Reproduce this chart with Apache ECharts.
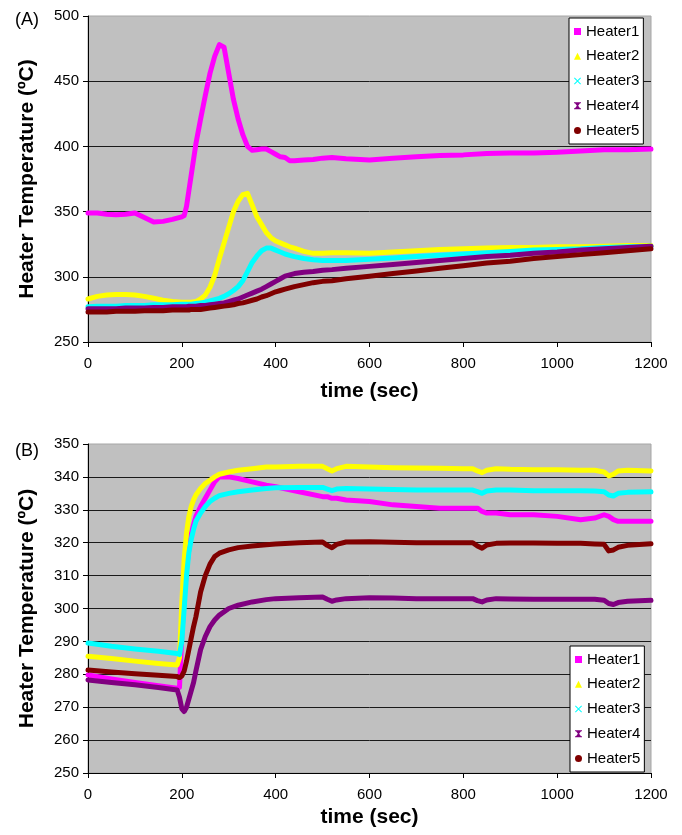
<!DOCTYPE html>
<html><head><meta charset="utf-8">
<script src="https://cdn.jsdelivr.net/npm/echarts@6/dist/echarts.min.js"></script>
<style>html,body{margin:0;padding:0;background:#fff}#c{width:682px;height:835px}</style>
</head><body><div id="c"></div>
<script>
const seriesNames = ['Heater1','Heater2','Heater3','Heater4','Heater5'];
const panelLabels = ['(A)','(B)'];
const xTitle = 'time (sec)';
const yTitle = 'Heater Temperature (\u00baC)';

// Panel A
const timeA = [0,20,40,60,80,100,120,140,160,180,200,205,210,215,220,230,240,250,260,270,280,290,300,310,320,330,340,350,360,370,380,390,400,410,420,430,440,460,480,500,520,550,600,650,700,750,800,850,900,950,1000,1050,1100,1150,1200];
const a1 = [349,349,348,347.5,348,349,345.5,342,342.5,344,346,347,354,366,378,402,421,439,456,469,478,476,456,436,421,409,400,397,397.5,398,398,396,394,392,391.5,389,389,389.5,390,391,391.5,390.5,389.5,391,392,393,393.5,394.5,395,395,395.5,396.5,397.5,397.5,398];
const a2 = [283,285,286,286.5,286.5,286,285,283.5,282,281,280.5,280.5,280.5,280.5,280.5,281,283,286,292,301,314,326,338,350,358,363,364,355,346,340,334,330,327.5,326,324.5,323,322,319.5,318,318,318.5,318.5,318,319,320,321,321.5,322,322.5,322.5,323,323,323.5,324,324];
const a3 = [277,277.5,277.5,277.5,278,278,278,278.5,278.5,278.5,279,279,279,279,279,279.5,280,280.5,281.5,282.5,283.5,285,287,289.5,292.5,297,304,311,316,320,322,322,320.5,319,317.5,316.5,315.5,314,313,312.5,312.5,312.5,313.5,314.5,315.5,316.5,317.5,318.5,319.5,320.5,321,321.5,322.5,323,323.5];
const a4 = [275.5,275.5,275.5,275.5,276,276,276,276.5,276.5,277,277,277,277,277.5,277.5,277.5,278,278,278.5,279,279.5,280,281,282,283,284.5,286,287.5,289,290.5,292.5,294.5,296.5,298.5,300.5,301.5,302.5,303.5,304,305,305.5,306.5,308,309.5,311,312.5,314,315.5,316.5,318,319,320.5,321.5,322.5,323.5];
const a5 = [273,273,273,273.5,273.5,273.5,274,274,274,274.5,274.5,274.5,274.5,274.5,275,275,275,275.5,276,276.5,277,277.5,278,278.5,279.5,280,281,282,283,284.5,285.5,287,288.5,289.5,290.5,291.5,292.5,294,295.5,296.5,297,298.5,300.5,302.5,304.5,306.5,308.5,310.5,312,314,315.5,317,318.5,320,321.5];

// Panel B
const timeB = [0,50,100,150,190,195,200,205,210,215,220,225,230,240,250,260,270,280,300,320,350,380,400,450,500,510,520,530,550,600,650,700,750,800,820,830,840,850,870,900,950,1000,1050,1080,1100,1110,1120,1130,1150,1200];
const b1 = [279.8,278.6,277.5,276.5,275.8,276,292,303,312,318,322.5,325.5,328,331,333.5,336,338.5,340,340,339.5,338.5,337.5,337,335.5,334,334,333.5,333.5,333,332.5,331.5,331,330.5,330.5,330.5,330.5,329.5,329,329,328.5,328.5,328,327,327.5,328.5,328,327,326.5,326.5,326.5];
const b2 = [285.5,284.8,284,283.3,282.8,285,302,315,323,328,331,333,334.5,336.5,338,339,340,340.8,341.5,342,342.5,343,343,343.2,343.2,342.5,341.8,342.5,343.2,343,342.8,342.7,342.6,342.5,342.5,341.8,341.3,342,342.5,342.3,342.2,342.2,342,342,341.5,340.3,340.8,341.8,342,341.8];
const b3 = [289.5,288.5,287.7,287,286.3,286,290,300,310,317,321,324,326.5,329,331,332.5,333.5,334.3,335,335.5,336,336.5,336.7,336.8,336.8,336.3,335.8,336.3,336.5,336.3,336.2,336,336,336,336,335.5,335,335.7,336,336,335.8,335.8,335.8,335.7,335.5,334.5,334.2,335,335.3,335.5];
const b4 = [278.3,277.5,276.8,276,275.2,273,269.5,268.7,270,272.5,275,277.5,281,287.5,291.5,294.5,296.5,298,300,301,302,302.7,303,303.3,303.5,302.8,302.2,302.6,303,303.3,303.2,303,303,303,303,302.4,302,302.6,303,302.9,302.8,302.8,302.8,302.8,302.5,301.5,301.2,301.8,302.2,302.5];
const b5 = [281.3,280.7,280.2,279.7,279.3,279,279.5,281,284,287.5,291,294.5,297.5,305,310,313.5,315.8,316.8,317.8,318.5,319,319.4,319.6,320,320.2,319.2,318.5,319.5,320.2,320.3,320.1,320,320,320,320,319,318.3,319.3,319.8,319.9,319.9,319.8,319.8,319.6,319.5,317.5,317.8,318.6,319.2,319.7];

const colors = ['#ff00ff','#ffff00','#00ffff','#800080','#800000'];
const icons = ['rect','triangle',
  'path://M0,1L1,0L5,4L9,0L10,1L6,5L10,9L9,10L5,6L1,10L0,9L4,5Z',
  'path://M0,0H10V1.6H8.6L5.9,5L8.6,8.4H10V10H0V8.4H1.4L4.1,5L1.4,1.6H0Z',
  'circle'];

const FONT = '"Liberation Sans", Arial, sans-serif';
const zip = (t, v) => t.map((x, i) => [x, v[i]]);
const panelA = [a1,a2,a3,a4,a5];
const panelB = [b1,b2,b3,b4,b5];

function xAxis(gi, gap) {
  return {
    type:'value', gridIndex:gi, min:0, max:1200, interval:200,
    name:xTitle, nameLocation:'middle', nameGap:gap,
    nameTextStyle:{fontFamily:FONT, fontSize:21, fontWeight:'bold', color:'#000'},
    axisLine:{show:true, lineStyle:{color:'#000', width:1}},
    axisTick:{show:true, length:5, inside:false, lineStyle:{color:'#000'}},
    axisLabel:{fontFamily:FONT, fontSize:15, color:'#000', margin:14, formatter:(v)=>String(v)},
    splitLine:{show:false}
  };
}
function yAxis(gi, min, max, interval) {
  return {
    type:'value', gridIndex:gi, min:min, max:max, interval:interval,
    name:yTitle, nameLocation:'middle', nameGap:50, nameRotate:90,
    nameTextStyle:{fontFamily:FONT, fontSize:21, fontWeight:'bold', color:'#000'},
    axisLine:{show:true, lineStyle:{color:'#000', width:1}},
    axisTick:{show:true, length:5, inside:false, lineStyle:{color:'#000'}},
    axisLabel:{fontFamily:FONT, fontSize:15, color:'#000', margin:9, formatter:(v)=>String(v)},
    splitLine:{show:true, showMinLine:false, showMaxLine:false, lineStyle:{color:'#1a1a1a', width:1}}
  };
}
function legend(left, top) {
  return {
    orient:'vertical', left:left, top:top,
    backgroundColor:'#fff', borderColor:'#000', borderWidth:1, borderRadius:0,
    padding:[6,4,6,5], itemWidth:7, itemHeight:7, itemGap:9.75, itemTextGap:7,
    textStyle:{fontFamily:FONT, fontSize:15, color:'#000', lineHeight:15},
    data: seriesNames.map((n,i)=>({name:n, icon:icons[i], itemStyle:{color:colors[i]}})),
    selectedMode:false
  };
}

const series = [];
[panelA, panelB].forEach((panel, gi) => {
  const t = gi === 0 ? timeA : timeB;
  panel.forEach((vals, i) => {
    series.push({
      type:'line', name:seriesNames[i], xAxisIndex:gi, yAxisIndex:gi,
      data: zip(t, vals), showSymbol:false, symbol:'none', smooth:false,
      color: colors[i],
      lineStyle:{color:colors[i], width:5, join:'round', cap:'round'},
      itemStyle:{color:colors[i]},
      animation:false, z: 2 + i
    });
  });
});

const chart = echarts.init(document.getElementById('c'), null, {renderer:'canvas'});
chart.setOption({
  animation:false,
  backgroundColor:'#fff',
  grid:[
    {left:88, top:16, width:563, height:326, show:true, backgroundColor:'#c0c0c0', borderColor:'#a6a6a6', borderWidth:1},
    {left:88, top:444, width:563, height:329, show:true, backgroundColor:'#c0c0c0', borderColor:'#a6a6a6', borderWidth:1}
  ],
  xAxis:[xAxis(0, 39), xAxis(1, 34)],
  yAxis:[yAxis(0, 250, 500, 50), yAxis(1, 250, 350, 10)],
  legend:[legend(569, 18), legend(570, 646)],
  graphic:[
    {type:'text', left:15, top:11, style:{text:panelLabels[0], font:'18px "Liberation Sans", Arial, sans-serif', fill:'#000'}},
    {type:'text', left:15, top:442, style:{text:panelLabels[1], font:'18px "Liberation Sans", Arial, sans-serif', fill:'#000'}}
  ],
  series: series
});
</script></body></html>
